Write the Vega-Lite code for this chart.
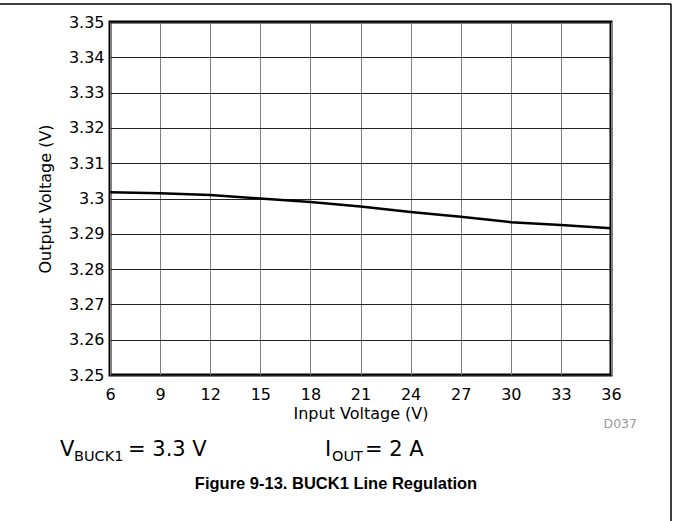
{
  "$schema": "https://vega.github.io/schema/vega-lite/v6.json",
  "width": 501,
  "height": 353,
  "autosize": "none",
  "padding": {"left": 110, "top": 22, "right": 62, "bottom": 146},
  "background": "white",
  "config": {
    "view": {"stroke": "black", "strokeWidth": 3},
    "font": "DejaVu Sans",
    "text": {"font": "DejaVu Sans"}
  },
  "datasets": {
    "curve": [
      {"vin": 6, "vout": 3.3018},
      {"vin": 9, "vout": 3.3015},
      {"vin": 12, "vout": 3.3010},
      {"vin": 15, "vout": 3.3000},
      {"vin": 18, "vout": 3.2990},
      {"vin": 21, "vout": 3.2977},
      {"vin": 24, "vout": 3.2962},
      {"vin": 27, "vout": 3.2948},
      {"vin": 30, "vout": 3.2933},
      {"vin": 33, "vout": 3.2925},
      {"vin": 36, "vout": 3.2916}
    ],
    "notes": [
      {"vin": 3.006, "vout": 3.22705, "t": "V"},
      {"vin": 7.0778, "vout": 3.22705, "t": "= 3.3 V"},
      {"vin": 18.874, "vout": 3.22705, "t": "I"},
      {"vin": 21.269, "vout": 3.22705, "t": "= 2 A"}
    ],
    "subs": [
      {"vin": 3.8443, "vout": 3.22564, "t": "BUCK1"},
      {"vin": 19.293, "vout": 3.22564, "t": "OUT"}
    ],
    "code": [
      {"vin": 37.557, "vout": 3.23499, "t": "D037"}
    ],
    "caption": [
      {"vin": 19.533, "vout": 3.21771, "t": "Figure 9-13. BUCK1 Line Regulation"}
    ],
    "frame": [
      {"vin": -0.6, "vin2": 39.6, "vout": 3.3551, "vout2": 3.3551},
      {"vin": 39.593, "vin2": 39.593, "vout": 3.3551, "vout2": 3.2086}
    ]
  },
  "layer": [
    {
      "data": {"name": "curve"},
      "mark": {"type": "line", "color": "black", "strokeWidth": 2.5},
      "encoding": {
        "x": {
          "field": "vin",
          "type": "quantitative",
          "scale": {"domain": [6, 36], "nice": false, "zero": false},
          "axis": {
            "values": [6, 9, 12, 15, 18, 21, 24, 27, 30, 33, 36],
            "tickCount": 11,
            "grid": true,
            "gridColor": "#808080",
            "gridWidth": 1,
            "gridOpacity": 1,
            "ticks": false,
            "domain": false,
            "labelFont": "DejaVu Sans",
            "labelFontSize": 16,
            "labelColor": "black",
            "labelPadding": 11,
            "labelFlush": false,
            "labelOverlap": false,
            "title": "Input Voltage (V)",
            "titleFont": "DejaVu Sans",
            "titleFontSize": 16,
            "titleFontWeight": "normal",
            "titleColor": "black",
            "titlePadding": 3
          }
        },
        "y": {
          "field": "vout",
          "type": "quantitative",
          "scale": {"domain": [3.25, 3.35], "nice": false, "zero": false},
          "axis": {
            "values": [3.25, 3.26, 3.27, 3.28, 3.29, 3.3, 3.31, 3.32, 3.33, 3.34, 3.35],
            "tickCount": 11,
            "format": "~g",
            "grid": true,
            "gridColor": "#222222",
            "gridWidth": 1,
            "gridOpacity": 1,
            "ticks": false,
            "domain": false,
            "labelFont": "DejaVu Sans",
            "labelFontSize": 16,
            "labelColor": "black",
            "labelPadding": 6,
            "labelFlush": false,
            "labelOverlap": false,
            "title": "Output Voltage (V)",
            "titleFont": "DejaVu Sans",
            "titleFontSize": 16,
            "titleFontWeight": "normal",
            "titleColor": "black",
            "titlePadding": 15
          }
        }
      }
    },
    {
      "data": {"name": "notes"},
      "mark": {"type": "text", "align": "left", "baseline": "alphabetic", "fontSize": 21, "color": "black", "font": "DejaVu Sans"},
      "encoding": {
        "x": {"field": "vin", "type": "quantitative"},
        "y": {"field": "vout", "type": "quantitative"},
        "text": {"field": "t"}
      }
    },
    {
      "data": {"name": "subs"},
      "mark": {"type": "text", "align": "left", "baseline": "alphabetic", "fontSize": 14.5, "color": "black", "font": "DejaVu Sans"},
      "encoding": {
        "x": {"field": "vin", "type": "quantitative"},
        "y": {"field": "vout", "type": "quantitative"},
        "text": {"field": "t"}
      }
    },
    {
      "data": {"name": "code"},
      "mark": {"type": "text", "align": "right", "baseline": "alphabetic", "fontSize": 12.5, "color": "#999999", "font": "DejaVu Sans"},
      "encoding": {
        "x": {"field": "vin", "type": "quantitative"},
        "y": {"field": "vout", "type": "quantitative"},
        "text": {"field": "t"}
      }
    },
    {
      "data": {"name": "caption"},
      "mark": {"type": "text", "align": "center", "baseline": "alphabetic", "fontSize": 16.5, "fontWeight": "bold", "color": "black", "font": "Liberation Sans"},
      "encoding": {
        "x": {"field": "vin", "type": "quantitative"},
        "y": {"field": "vout", "type": "quantitative"},
        "text": {"field": "t"}
      }
    },
    {
      "data": {"name": "frame"},
      "mark": {"type": "rule", "color": "black", "strokeWidth": 1.5},
      "encoding": {
        "x": {"field": "vin", "type": "quantitative"},
        "x2": {"field": "vin2"},
        "y": {"field": "vout", "type": "quantitative"},
        "y2": {"field": "vout2"}
      }
    }
  ]
}
